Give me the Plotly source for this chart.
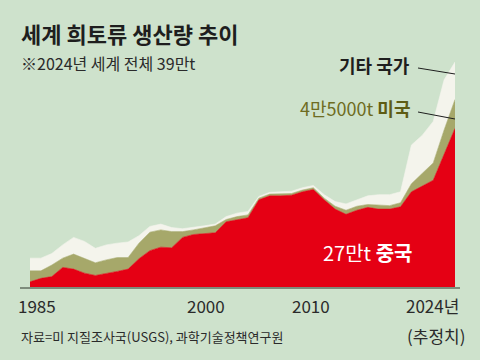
import plotly.graph_objects as go

years = list(range(1985, 2025))
china = [0.9, 1.5, 1.8, 3.4, 3.1, 2.4, 2.0, 2.3, 2.7, 3.1,
         4.9, 6.3, 6.9, 6.8, 8.6, 9.1, 9.2, 9.4, 11.3, 11.7,
         12.0, 15.1, 15.8, 15.8, 15.9, 16.5, 16.9, 15.1, 13.5, 12.6,
         13.3, 13.8, 13.5, 13.5, 13.9, 16.5, 17.5, 18.5, 23.0, 27.5]
usa = [1.9, 1.3, 2.0, 1.6, 2.6, 2.6, 2.2, 2.4, 2.4, 2.0,
       2.7, 3.2, 3.0, 2.8, 1.0, 0.8, 1.0, 1.2, 0.4, 0.5,
       0.5, 0.3, 0.3, 0.3, 0.3, 0.3, 0.3, 0.3, 0.5, 0.7,
       0.7, 0.5, 0.7, 0.6, 0.7, 1.4, 2.2, 3.0, 4.2, 5.0]
others = [2.2, 2.2, 2.0, 2.3, 2.9, 2.9, 2.5, 2.6, 2.5, 2.7,
          1.3, 1.0, 1.0, 0.7, 0.5, 0.4, 0.4, 0.3, 0.5, 0.6,
          0.6, 0.3, 0.3, 0.4, 0.4, 0.4, 0.4, 0.6, 0.8, 1.1,
          1.1, 1.5, 1.8, 1.9, 1.9, 6.7, 6.6, 7.2, 8.7, 6.5]
tick_labels = {1985: "1985", 2000: "2000", 2010: "2010", 2024: "2024년"}

BG = "#CEE2CC"
RED = "#E50014"
OLIVE = "#A6A86A"
WHITE = "#F4F4EC"
FONT = "Noto Sans CJK KR"

fig = go.Figure()
for name, vals, col in [("중국", china, RED), ("미국", usa, OLIVE), ("기타 국가", others, WHITE)]:
    fig.add_trace(go.Scatter(x=years, y=vals, name=name, stackgroup="one",
                             mode="lines", line=dict(width=0.6, color=col),
                             fillcolor=col, hoverinfo="skip"))

L, R, T, B = 30, 25, 40, 73
W, H = 480, 360
PW, PH = W - L - R, H - T - B


def px(x):
    return (x - L) / PW


def py(y):
    return (H - B - y) / PH


ann = []


def text(x, y, s, size, color="#222222", xanchor="left", bold=False):
    ann.append(dict(x=px(x), y=py(y), xref="paper", yref="paper", text=("<b>%s</b>" % s) if bold else s,
                    showarrow=False, xanchor=xanchor, yanchor="middle",
                    font=dict(family=FONT, size=size, color=color)))


text(19, 33, "세계 희토류 생산량 추이", 22, "#1e1e1e", bold=True)
text(19, 63, "※2024년 세계 전체 39만t", 16, "#2a2a2a")
text(412, 65, "기타 국가", 18, "#1e1e1e", "right", bold=True)
ann.append(dict(x=px(412), y=py(108), xref="paper", yref="paper",
                text="<span style='color:#6E6C22'>4만5000t</span> <b><span style='color:#5E5C14'>미국</span></b>",
                showarrow=False, xanchor="right", yanchor="middle",
                font=dict(family=FONT, size=18, color="#6E6C22")))
ann.append(dict(x=px(414), y=py(252), xref="paper", yref="paper",
                text="27만t <b>중국</b>", showarrow=False, xanchor="right", yanchor="middle",
                font=dict(family=FONT, size=20, color="white")))

# axis labels
tick_px = {1985: (37, "center"), 2000: (206, "center"), 2010: (311, "center"), 2024: (461, "right")}
for yr, lab in tick_labels.items():
    xx, anc = tick_px[yr]
    text(xx, 305, lab, 17, "#2a2a2a", anc)
text(436, 335, "(추정치)", 17, "#2a2a2a", "center")
text(19, 336, "자료=미 지질조사국(USGS), 과학기술정책연구원", 13, "#2a2a2a")

shapes = [
    dict(type="line", xref="paper", yref="paper", x0=px(20), x1=px(460), y0=py(288), y1=py(288),
         line=dict(color="#7E8C7C", width=2)),
    dict(type="line", xref="paper", yref="paper", x0=px(418), x1=px(455), y0=py(68), y1=py(74),
         line=dict(color="#1e1e1e", width=1)),
    dict(type="line", xref="paper", yref="paper", x0=px(418), x1=px(455), y0=py(112), y1=py(119),
         line=dict(color="#1e1e1e", width=1)),
]

ymax = PH / 5.77
fig.update_layout(
    width=W, height=H, margin=dict(l=L, r=R, t=T, b=B),
    paper_bgcolor=BG, plot_bgcolor=BG, showlegend=False,
    xaxis=dict(range=[1985, 2024], showgrid=False, zeroline=False, showticklabels=False,
               ticks="", showline=False, fixedrange=True),
    yaxis=dict(range=[0, ymax], showgrid=False, zeroline=False, showticklabels=False,
               ticks="", showline=False, fixedrange=True),
    annotations=ann, shapes=shapes,
)
fig.write_html("out.html", config={"displayModeBar": False},
               post_script="document.body.style.margin='0';document.body.style.background='%s';" % BG)
